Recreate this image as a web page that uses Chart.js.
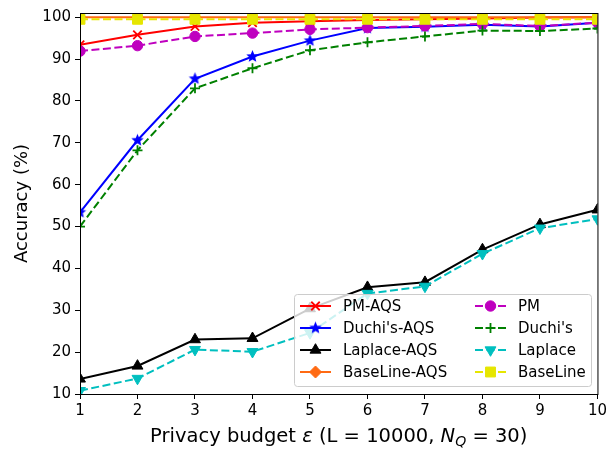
<!DOCTYPE html>
<html>
<head>
  <title>Accuracy vs privacy budget</title>
  <script src="https://cdn.jsdelivr.net/npm/chart.js"></script>
  <style>
    body { margin: 0; background: #fff; }
  </style>
</head>
<body>
  <canvas id="chart" width="610" height="452"></canvas>
  <script>
    // privacy budget on the x axis
    const epsilons = [1, 2, 3, 4, 5, 6, 7, 8, 9, 10];
    const yTicks = [10, 20, 30, 40, 50, 60, 70, 80, 90, 100];

    // accuracy (%) per method
    const pmAqs       = [93.4, 95.8, 97.8, 98.7, 99.0, 99.3, 99.5, 99.7, 99.9, 100.0];
    const duchiAqs    = [53.4, 70.6, 85.3, 90.6, 94.4, 97.4, 97.7, 98.2, 97.8, 98.7];
    const laplaceAqs  = [13.6, 16.7, 23.0, 23.3, 30.4, 35.5, 36.7, 44.5, 50.5, 54.0];
    const baselineAqs = [100.0, 100.0, 100.0, 100.0, 100.0, 100.0, 100.0, 100.0, 100.0, 100.0];
    const pm          = [91.9, 93.2, 95.4, 96.2, 97.1, 97.5, 97.9, 98.4, 97.9, 98.7];
    const duchi       = [50.0, 68.2, 83.0, 87.8, 92.1, 94.0, 95.4, 96.8, 96.7, 97.3];
    const laplace     = [10.8, 13.7, 20.6, 20.1, 24.6, 34.0, 35.7, 43.5, 49.6, 51.8];
    const baseline    = [99.5, 99.5, 99.5, 99.5, 99.5, 99.5, 99.5, 99.5, 99.5, 99.5];

    const FONT = '"DejaVu Sans", "Liberation Sans", sans-serif';
    Chart.defaults.font.family = FONT;
    Chart.defaults.color = '#000';

    // filled five-point star, like matplotlib's '*'
    function starImage(color, r) {
      const c = document.createElement('canvas');
      const s = Math.ceil(r * 2 + 2);
      c.width = s; c.height = s;
      const g = c.getContext('2d');
      g.beginPath();
      for (let i = 0; i < 10; i++) {
        const rr = i % 2 ? r * 0.45 : r;
        const a = -Math.PI / 2 + i * Math.PI / 5;
        g.lineTo(s / 2 + rr * Math.cos(a), s / 2 + rr * Math.sin(a));
      }
      g.closePath();
      g.fillStyle = color;
      g.fill();
      return c;
    }

    const dash = [8, 3.5];
    const series = [
      { label: 'PM-AQS', data: pmAqs, color: '#ff0000', dash: [], style: 'crossRot', r: 6 },
      { label: "Duchi's-AQS", data: duchiAqs, color: '#0000ff', dash: [], style: starImage('#0000ff', 6.5), r: 6 },
      { label: 'Laplace-AQS', data: laplaceAqs, color: '#000000', dash: [], style: 'triangle', r: 6.3 },
      { label: 'BaseLine-AQS', data: baselineAqs, color: '#ff6a13', dash: [], style: 'rectRot', r: 6 },
      { label: 'PM', data: pm, color: '#bf00bf', dash: dash, style: 'circle', r: 5.2 },
      { label: "Duchi's", data: duchi, color: '#008000', dash: dash, style: 'cross', r: 5 },
      { label: 'Laplace', data: laplace, color: '#00bfbf', dash: dash, style: 'triangle', r: 6.3, rot: 180 },
      { label: 'BaseLine', data: baseline, color: '#e6e600', dash: dash, style: 'rect', r: 7 }
    ];

    // chart.js paints dataset 0 last, so reverse to keep BaseLine on top
    const datasets = series.slice().reverse().map(s => ({
      label: s.label,
      data: s.data.map((v, i) => ({ x: epsilons[i], y: v })),
      borderColor: s.color,
      backgroundColor: s.color,
      borderWidth: 2,
      borderDash: s.dash,
      pointStyle: s.style,
      pointRadius: s.r,
      pointRotation: s.rot || 0,
      pointBorderColor: s.color,
      pointBackgroundColor: s.color,
      pointBorderWidth: (s.style === 'cross' || s.style === 'crossRot') ? 1.8 : 1,
      tension: 0
    }));

    const framePlugin = {
      id: 'frame',
      afterDatasetsDraw(chart) {
        const { ctx, chartArea: a } = chart;
        ctx.save();
        ctx.strokeStyle = '#000';
        ctx.lineWidth = 1;
        ctx.strokeRect(a.left + 0.5, a.top + 0.5, a.right - a.left, a.bottom - a.top);
        ctx.restore();
      }
    };

    // x title has an italic epsilon and N with subscript Q
    const xTitlePlugin = {
      id: 'xTitle',
      afterDraw(chart) {
        const ctx = chart.ctx;
        const a = chart.chartArea;
        const size = 19.5;
        const parts = [
          { t: 'Privacy budget ', f: size + 'px ' + FONT, dy: 0 },
          { t: 'ε', f: 'italic ' + size + 'px ' + FONT, dy: 0 },
          { t: ' (L = 10000, ', f: size + 'px ' + FONT, dy: 0 },
          { t: 'N', f: 'italic ' + size + 'px ' + FONT, dy: 0 },
          { t: 'Q', f: 'italic ' + (size * 0.72) + 'px ' + FONT, dy: 4 },
          { t: ' = 30)', f: size + 'px ' + FONT, dy: 0 }
        ];
        ctx.save();
        ctx.fillStyle = '#000';
        ctx.textBaseline = 'alphabetic';
        let total = 0;
        parts.forEach(p => { ctx.font = p.f; p.w = ctx.measureText(p.t).width; total += p.w; });
        let x = (a.left + a.right) / 2 - total / 2;
        const y = 442;
        parts.forEach(p => { ctx.font = p.f; ctx.fillText(p.t, x, y + p.dy); x += p.w; });
        ctx.restore();
      }
    };

    const legendPlugin = {
      id: 'boxLegend',
      afterDraw(chart) {
        const ctx = chart.ctx;
        const box = { x: 294.5, y: 294.5, w: 297, h: 92 };
        ctx.save();
        ctx.beginPath();
        ctx.roundRect(box.x, box.y, box.w, box.h, 3);
        ctx.fillStyle = 'rgba(255,255,255,0.8)';
        ctx.fill();
        ctx.strokeStyle = '#cccccc';
        ctx.lineWidth = 1;
        ctx.stroke();
        series.forEach((s, i) => {
          const col = i < 4 ? 0 : 1;
          const row = i % 4;
          const lx = col ? 475 : 300;
          const cy = 306 + row * 22;
          ctx.beginPath();
          ctx.setLineDash(s.dash);
          ctx.strokeStyle = s.color;
          ctx.lineWidth = 2;
          ctx.moveTo(lx, cy);
          ctx.lineTo(lx + 31, cy);
          ctx.stroke();
          ctx.setLineDash([]);
          ctx.fillStyle = s.color;
          ctx.strokeStyle = s.color;
          ctx.lineWidth = (s.style === 'cross' || s.style === 'crossRot') ? 1.8 : 1;
          Chart.helpers.drawPoint(ctx, { pointStyle: s.style, radius: s.r, rotation: s.rot || 0, borderWidth: 1 }, lx + 15.5, cy);
          ctx.fillStyle = '#000';
          ctx.font = '15px ' + FONT;
          ctx.textBaseline = 'middle';
          ctx.fillText(s.label, lx + 43, cy + 1);
        });
        ctx.restore();
      }
    };

    new Chart(document.getElementById('chart'), {
      type: 'line',
      data: { datasets },
      options: {
        responsive: false,
        animation: false,
        devicePixelRatio: 1,
        layout: { padding: { top: 8, right: 12, left: 0, bottom: 0 } },
        plugins: { legend: { display: false }, tooltip: { enabled: false } },
        scales: {
          x: {
            type: 'linear',
            min: 1,
            max: 10,
            afterBuildTicks: s => { s.ticks = epsilons.map(v => ({ value: v })); },
            afterFit: s => { s.height = 58; },
            grid: { drawOnChartArea: false, drawTicks: true, tickLength: 5, color: '#000' },
            border: { display: true, color: '#000', width: 1 },
            ticks: { font: { size: 15 }, padding: 3, maxRotation: 0 }
          },
          y: {
            min: 10,
            max: 101,
            afterBuildTicks: s => { s.ticks = yTicks.map(v => ({ value: v })); },
            afterFit: s => { s.width = 80; },
            grid: { drawOnChartArea: false, drawTicks: true, tickLength: 5, color: '#000' },
            border: { display: true, color: '#000', width: 1 },
            ticks: { font: { size: 15 }, padding: 4 },
            title: { display: true, text: 'Accuracy (%)', font: { size: 18 }, padding: { top: 12, bottom: 0 } }
          }
        }
      },
      plugins: [framePlugin, xTitlePlugin, legendPlugin]
    });
  </script>
</body>
</html>
